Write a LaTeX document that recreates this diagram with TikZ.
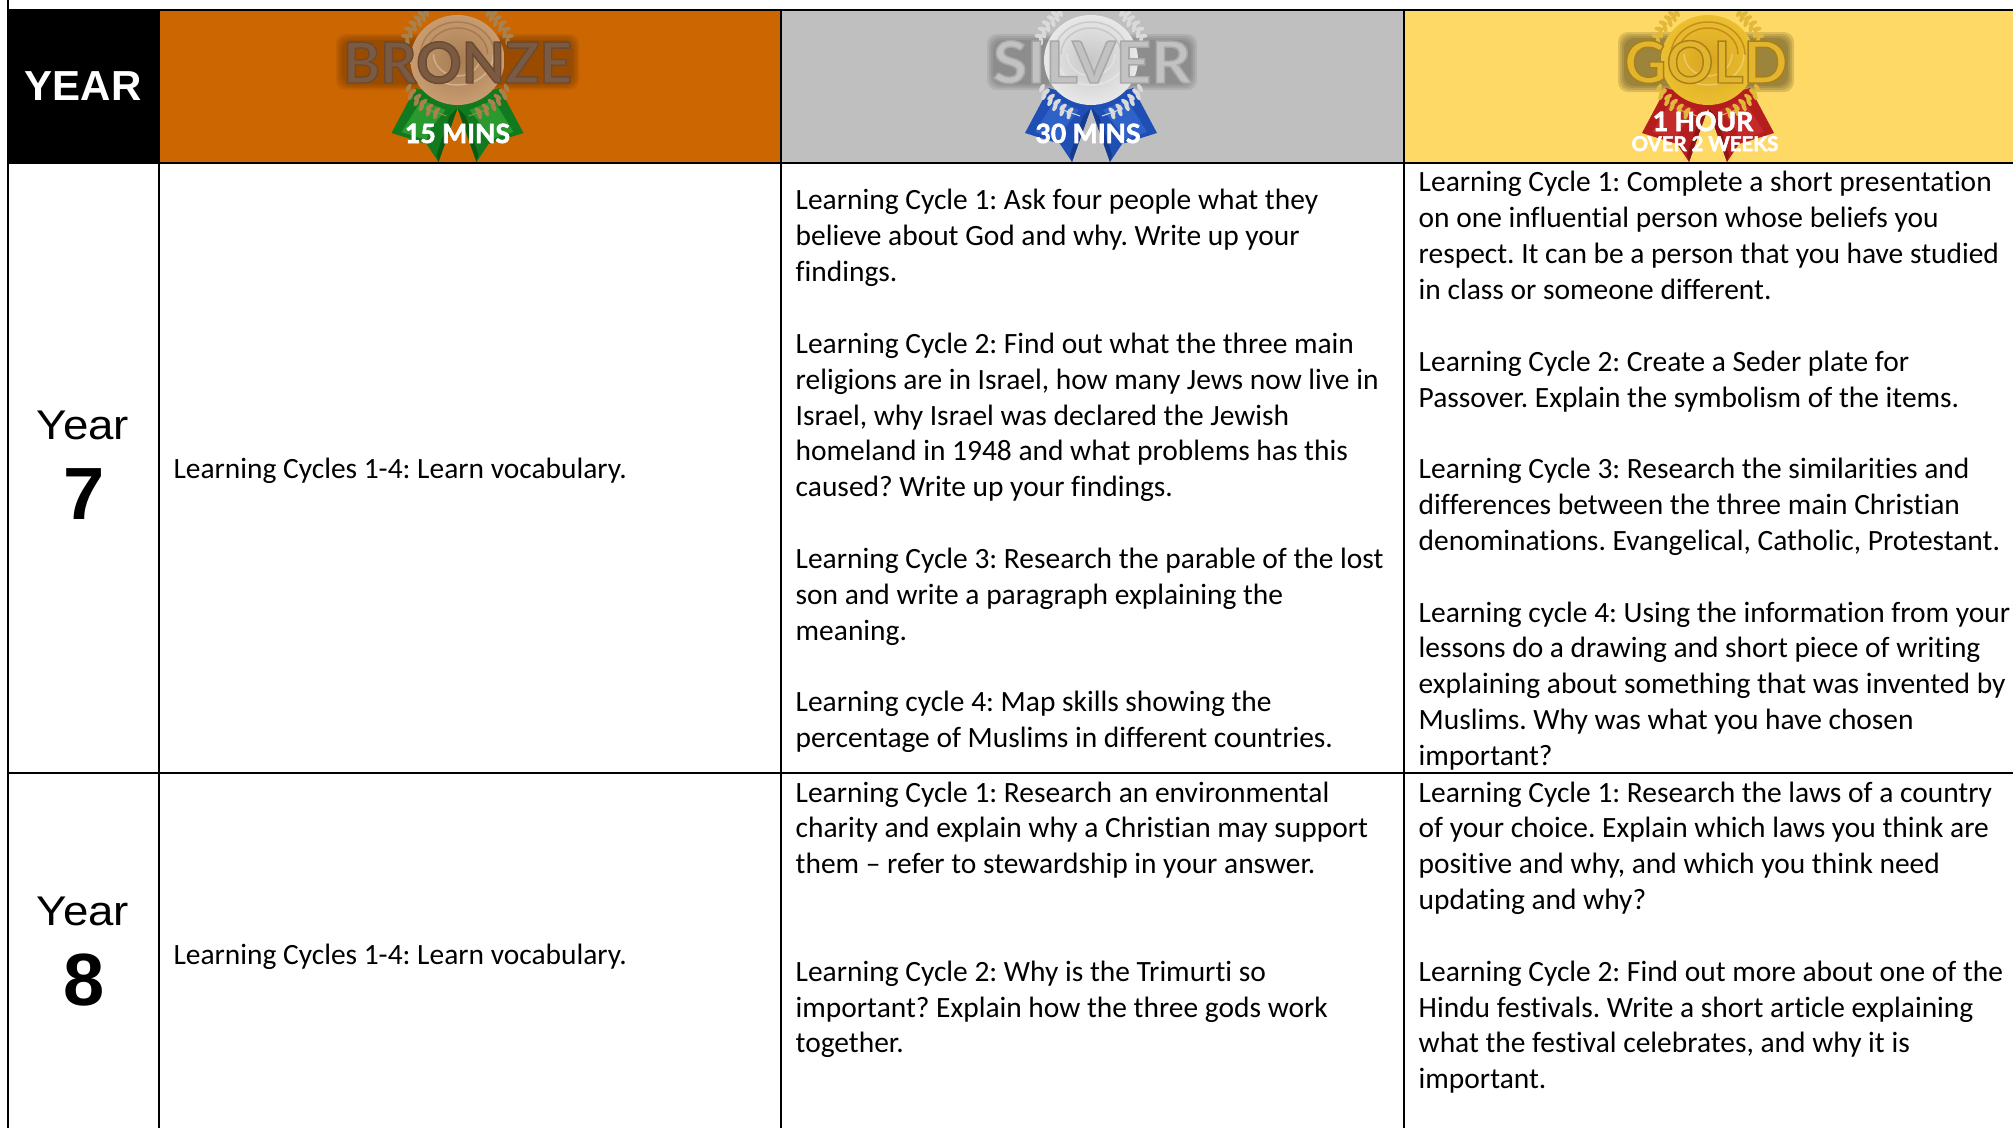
\documentclass[tikz,border=0pt]{standalone}
\usepackage{fontspec}
\setmainfont[Ligatures=NoCommon]{Carlito}
\newfontfamily\arialf{Liberation Sans}
\newfontfamily\medf[BoldFeatures={FakeBold=2.5}]{Lato}
\newfontfamily\minf[BoldFeatures={FakeBold=2.4}]{Lato}
\usetikzlibrary{shapes.geometric}
\definecolor{hbronze}{HTML}{CC6600}
\definecolor{hsilver}{HTML}{BFBFBF}
\definecolor{hgold}{HTML}{FFD966}
\definecolor{grn}{HTML}{127A1E}\definecolor{grnl}{HTML}{2A9A2E}\definecolor{grnd}{HTML}{0B5A14}
\definecolor{blu}{HTML}{1F4FB5}\definecolor{blul}{HTML}{2F62C8}\definecolor{blud}{HTML}{163C90}
\definecolor{rd}{HTML}{B51E1E}\definecolor{rdl}{HTML}{C42A2A}\definecolor{rdd}{HTML}{8E1515}
\definecolor{lfb}{HTML}{A8814F}\definecolor{lfs}{HTML}{DADADA}\definecolor{lfg}{HTML}{E2B83A}
\definecolor{fbi}{HTML}{A67C52}\definecolor{fbo}{HTML}{C89C70}
\definecolor{fsi}{HTML}{C6C6C6}\definecolor{fso}{HTML}{E8E8E8}
\definecolor{fgi}{HTML}{D9A520}\definecolor{fgo}{HTML}{EBBF30}
\tikzset{
  grid line/.style={draw=black,line width=2pt},
  body/.style={anchor=north west,inner sep=0pt,align=left,font=\frenchspacing\fontsize{29.45}{35.85}\selectfont},
  yearword/.style={anchor=base,inner sep=0pt,font=\arialf\fontsize{41.5}{41.5}\selectfont},
  yearnum/.style={anchor=base,inner sep=0pt,font=\arialf\bfseries\fontsize{74}{74}\selectfont},
  metal/.style={anchor=base,inner sep=0pt},
  mins/.style={anchor=base,inner sep=0pt,text=white},
}
\newcommand{\fl}{\rule{0pt}{27pt}}
\newcommand{\strokergb}[3]{\special{pdf:code #1 #2 #3 RG}}
% {cx}{cy}{ribbon}{ribbon light}{ribbon dark}{leaf}{stem}{face inner}{face outer}
\newcommand{\medalart}[9]{%
 \begin{scope}[shift={(#1,#2)}]
  \foreach \s in {1,-1}{
   \begin{scope}[xscale=\s]
    \fill[#3] (0,40) -- (-42,28) -- (-66,73) -- (-31,84) -- (-19,102) -- (0,48) -- cycle;
    \fill[#4] (-36,40) -- (-56,72) -- (-31,80) -- (-28,70) -- (-12,50) -- cycle;
    \fill[#5] (-8,56) -- (-21,95) -- (-19,102) -- (0,48) -- cycle;
    \foreach \x/\y/\r in {-31/-47/30,-36/-46/60,-34/-42/25,-40/-42/65,-38/-37/20,-45/-37/70,-43/-32/15,-49/-31/80,-47/-26/10,-52/-24/85,-50/-19/5,
        -49/28/-30,-45/32/-55,-47/36/-25,-40/37/-55,-41/42/-25,-34/42/-55,-36/47/-25,-28/47/-50,-29/52/-20,-21/51/-45,-22/55/-15}{
      \fill[#6,rotate around={\r:(\x,\y)}] (\x,\y) ellipse (2.2 and 4.6);
    }
    \draw[#7,line width=1pt] (-28,50) -- (-11,56);
   \end{scope}
  }
  \shade[inner color=#8,outer color=#9] (0,0) ellipse (47 and 45);
 \end{scope}}
\begin{document}
\begin{tikzpicture}[x=1pt,y=-1pt]
\useasboundingbox (0,0) rectangle (2013,1128);
% header fills
\fill[black] (8,10) rectangle (159,163);
\fill[hbronze] (159,10) rectangle (781,163);
\fill[hsilver] (781,10) rectangle (1404,163);
\fill[hgold] (1404,10) rectangle (2013,163);
% glows
\foreach \g in {0,2,4,6}{
 \fill[black!60!hbronze,opacity=.12,rounded corners=10pt] (336+\g,34+\g) rectangle (579-\g,90-\g);
 \fill[black!60!hsilver,opacity=.13,rounded corners=10pt] (987+\g,34+\g) rectangle (1197-\g,90-\g);
 \fill[black!65!hgold,opacity=.2,rounded corners=10pt] (1618+\g,32+\g) rectangle (1794-\g,92-\g);
}
% medals
\medalart{457.5}{60}{grn}{grnl}{grnd}{lfb}{lfb}{fbi}{fbo}
\medalart{1091}{60}{blu}{blul}{blud}{lfs}{lfs}{fsi}{fso}
\medalart{1708}{60}{rd}{rdl}{rdd}{lfg}{lfg}{fgi}{fgo}
\foreach \cx/\cc in {457.5/brown!70!black,1091/gray!70,1708/orange!60!black}{
 \begin{scope}[shift={(\cx,60)}]
  \draw[\cc,opacity=.4,line width=1.5pt] (-37,-5) arc (180:360:37 and 33);
  \draw[\cc,opacity=.4,line width=1.5pt] (-30,-6) arc (180:360:30 and 26);
  \draw[white,opacity=.3,line width=1.5pt] (-36,-6) arc (180:0:36 and 31);
  \draw[white,opacity=.3,line width=1.5pt] (-24,-6) arc (180:0:24 and 22);
 \end{scope}}
% medal words
\node[metal] (bronzeword) at (457.5,83) {\fontsize{56.5}{56.5}\medf\bfseries\color[HTML]{7A5A42}\strokergb{0.42}{0.29}{0.19}BRONZE};
\node[metal] (silverword) at (1092,83) {\scalebox{1.07}[1]{\fontsize{58}{58}\medf\bfseries\color[HTML]{C2C2C2}\strokergb{0.66}{0.66}{0.66}SILVER}};
\node[metal] (goldword) at (1706,83) {\fontsize{58}{58}\medf\bfseries\color[HTML]{E3B52E}\strokergb{0.66}{0.50}{0.10}GOLD};
\node[mins] (m15) at (457.5,143) {\fontsize{26.5}{26.5}\minf\bfseries\color{white}15 MINS};
\node[mins] (m30) at (1088,143) {\fontsize{26.5}{26.5}\minf\bfseries\color{white}30 MINS};
\node[mins] (m60) at (1703,131) {\fontsize{26.5}{26.5}\minf\bfseries\color{white}1 HOUR};
\node[mins] (m2w) at (1705,151) {\fontsize{20.4}{20.4}\minf\bfseries\color{white}OVER 2 WEEKS};
% grid
\draw[grid line] (7,10) -- (2013,10);
\draw[grid line] (7,163) -- (2013,163);
\draw[grid line] (8,773) -- (2013,773);
\draw[grid line] (8,0) -- (8,1128);
\draw[grid line] (159,10) -- (159,1128);
\draw[grid line] (781,10) -- (781,1128);
\draw[grid line] (1404,10) -- (1404,1128);
% first column
\node[anchor=base,inner sep=0pt,text=white,font=\arialf\bfseries\fontsize{42}{42}\selectfont] (yearhead) at (83,100.5) {YEAR};
\node[yearword] (y7w) at (83,439) {\scalebox{1.1}[1]{Year}};
\node[yearnum] (y7n) at (84.5,519) {7};
\node[yearword] (y8w) at (83,925.5) {\scalebox{1.1}[1]{Year}};
\node[yearnum] (y8n) at (84.5,1005.5) {8};
% bronze
\node[body] (b7) at (173.3,451.3) {\fl Learning Cycles 1-4: Learn vocabulary.};
\node[body] (b8) at (173.3,936.8) {\fl Learning Cycles 1-4: Learn vocabulary.};
% silver
\node[body] (s7) at (795.5,182.7) {\fl Learning Cycle 1: Ask four people what they\\
believe about God and why. Write up your\\
findings.\\[35.85pt]
Learning Cycle 2: Find out what the three main\\
religions are in Israel, how many Jews now live in\\
Israel, why Israel was declared the Jewish\\
homeland in 1948 and what problems has this\\
caused? Write up your findings.\\[35.85pt]
Learning Cycle 3: Research the parable of the lost\\
son and write a paragraph explaining the\\
meaning.\\[35.85pt]
Learning cycle 4: Map skills showing the\\
percentage of Muslims in different countries.};
\node[body] (s8) at (795.5,774.8) {\fl Learning Cycle 1: Research an environmental\\
charity and explain why a Christian may support\\
them – refer to stewardship in your answer.\\[71.7pt]
Learning Cycle 2: Why is the Trimurti so\\
important? Explain how the three gods work\\
together.};
% gold
\node[body] (g7) at (1418.5,164.7) {\fl Learning Cycle 1: Complete a short presentation\\
on one influential person whose beliefs you\\
respect. It can be a person that you have studied\\
in class or someone different.\\[35.85pt]
Learning Cycle 2: Create a Seder plate for\\
Passover. Explain the symbolism of the items.\\[35.85pt]
Learning Cycle 3: Research the similarities and\\
differences between the three main Christian\\
denominations. Evangelical, Catholic, Protestant.\\[35.85pt]
Learning cycle 4: Using the information from your\\
lessons do a drawing and short piece of writing\\
explaining about something that was invented by\\
Muslims. Why was what you have chosen\\
important?};
\node[body] (g8) at (1418.5,774.8) {\fl Learning Cycle 1: Research the laws of a country\\
of your choice. Explain which laws you think are\\
positive and why, and which you think need\\
updating and why?\\[35.85pt]
Learning Cycle 2: Find out more about one of the\\
Hindu festivals. Write a short article explaining\\
what the festival celebrates, and why it is\\
important.};
\end{tikzpicture}
\end{document}
